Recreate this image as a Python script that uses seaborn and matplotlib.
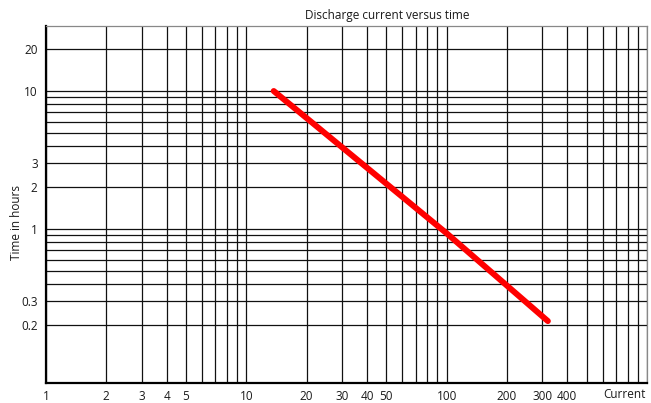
import numpy as np
import pandas as pd
import matplotlib
matplotlib.use("Agg")
import matplotlib.pyplot as plt
import seaborn as sns

# data
current = [13.7, 100, 320]
hours = [10, 0.93, 0.215]

x_labels = [1, 2, 3, 4, 5, 10, 20, 30, 40, 50, 100, 200, 300, 400]
y_labels = [0.2, 0.3, 1, 2, 3, 10, 20]

x_grid = [m * d for d in (1, 10, 100) for m in range(1, 10)] + [1000]
y_grid = [m / 10 for m in range(2, 10)] + list(range(1, 10)) + [10, 20]

sns.set_style("white")
plt.rcParams['font.family'] = ['Open Sans', 'DejaVu Sans']

fig = plt.figure(figsize=(6.51, 4.03), dpi=100)
ax = fig.add_axes([46 / 651, 20 / 403, 601 / 651, 357 / 403])

df = pd.DataFrame({"current": current, "hours": hours})
sns.lineplot(data=df, x="current", y="hours", color="#ff0000", linewidth=4.3,
             ax=ax, solid_capstyle="round", zorder=5)

ax.set_xscale("log")
ax.set_yscale("log")
ax.set_xlim(1, 1000)
ax.set_ylim(0.0765, 29.6)

ax.set_xticks(x_grid)
ax.set_xticklabels([(f"{v:g}" if v in x_labels else "") for v in x_grid])
ax.set_yticks(y_grid)
ax.set_yticklabels([(f"{v:g}" if v in y_labels else "") for v in y_grid])
ax.minorticks_off()
ax.tick_params(length=0, labelsize=8.5, colors="#1a1a1a")
ax.tick_params(axis="x", pad=5)
ax.tick_params(axis="y", pad=6)
ax.grid(True, color="#111111", linewidth=0.9)

ax.set_xlabel("")
ax.set_ylabel("")
for side in ("top", "right"):
    ax.spines[side].set_color("#888888")
    ax.spines[side].set_linewidth(0.9)
for side in ("left", "bottom"):
    ax.spines[side].set_color("black")
    ax.spines[side].set_linewidth(1.6)

fig.text(387 / 651, 1 - 15 / 403, "Discharge current versus time",
         ha="center", va="center", fontsize=8.5, color="#1a1a1a")
fig.text(17 / 651, 1 - 222 / 403, "Time in hours", rotation=90,
         ha="center", va="center", fontsize=8.5, color="#1a1a1a")
fig.text(646 / 651, 1 - 395 / 403, "Current", ha="right", va="center",
         fontsize=8.5, color="#1a1a1a")

fig.savefig("out.png", dpi=100)
